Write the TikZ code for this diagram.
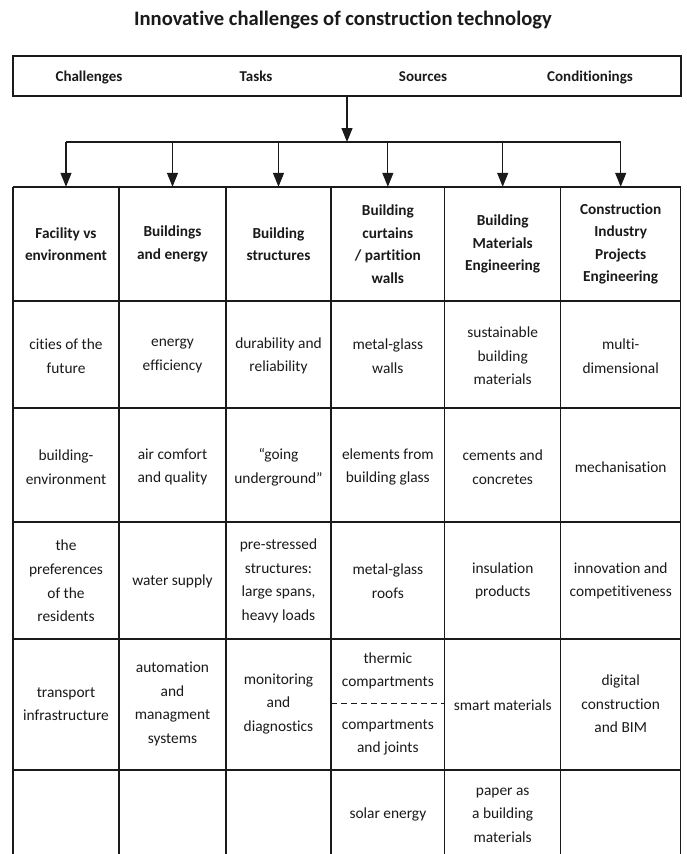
\documentclass[tikz,border=0pt]{standalone}
\usepackage{fontspec}
\setmainfont[Ligatures=NoCommon,RawFeature={-liga;-clig;-calt;-dlig}]{Carlito}
\usetikzlibrary{arrows.meta}
\definecolor{ink}{HTML}{1A1A1A}
\begin{document}
\begin{tikzpicture}[x=1pt,y=-1pt,
  gridline/.style={draw=ink, line width=1.3pt},
  cell/.style={align=center, font=\fontsize{15.4}{23.6}\selectfont, inner sep=0pt, text=ink},
  head/.style={align=center, font=\fontsize{15.3}{22.5}\selectfont\bfseries, inner sep=0pt, minimum height=114pt, text=ink},
  toplabel/.style={font=\fontsize{15}{18}\selectfont\bfseries, inner sep=0pt, text=ink, anchor=base},
  conn/.style={line width=1.2pt, draw=ink},
  tipped/.style={conn, -{Triangle[length=14pt,width=11pt]}}]
\useasboundingbox (0,0) rectangle (686,854);
\fill[white] (0,0) rectangle (686,854);

% title
\node[font=\fontsize{20.6}{24}\selectfont\bfseries, text=ink, anchor=base] (title) at (343,25) {Innovative challenges of construction technology};

% top box
\node[draw=ink, line width=1.3pt, minimum width=668pt, minimum height=40pt, inner sep=0pt] (top) at (347,76) {};
\node[toplabel] (l1) at (89,81) {Challenges};
\node[toplabel] (l2) at (256,81) {Tasks};
\node[toplabel] (l3) at (423,81) {Sources};
\node[toplabel] (l4) at (590,81) {Conditionings};

% table grid
\foreach \x in {13,119,226,331,444.7,560.7,680.7}
  \draw[gridline] (\x,187) -- (\x,854);
\foreach \y in {187,301,408,522,639,770}
  \draw[gridline] (13,\y) -- (680.7,\y);
\draw[conn, line width=1pt, dash pattern=on 6pt off 4pt] (331,703.5) -- (444.7,703.5);

% header cells
\node[head, minimum width=106pt] (h1) at (66,244) {Facility vs\\environment};
\node[head, minimum width=107pt] (h2) at (172.5,244) {Buildings\\and energy};
\node[head, minimum width=105pt] (h3) at (278.5,244) {Building\\structures};
\node[head, minimum width=113.7pt] (h4) at (387.85,244) {Building\\curtains\\/ partition\\walls};
\node[head, minimum width=116pt] (h5) at (502.7,244) {Building\\Materials\\Engineering};
\node[head, minimum width=120pt] (h6) at (620.7,244) {Construction\\Industry\\Projects\\Engineering};

% connectors
\coordinate (hub) at (347,142);
\draw[tipped] (top.south) -- (hub);
\draw[conn] (h1.north |- hub) -- (h6.north |- hub);
\foreach \h in {h1,h2,h3,h4,h5,h6}
  \draw[tipped] (\h.north |- hub) -- (\h.north);

% row 1
\node[cell] (a1) at (66,356) {cities of the\\future};
\node[cell] (a2) at (172.5,356) {energy\\efficiency};
\node[cell] (a3) at (278.5,356) {durability and\\reliability};
\node[cell] (a4) at (387.85,356) {metal-glass\\walls};
\node[cell] (a5) at (502.7,356) {sustainable\\building\\materials};
\node[cell] (a6) at (620.7,356) {multi-\\dimensional};

% row 2
\node[cell] (b1) at (66,467) {building-\\environment};
\node[cell] (b2) at (172.5,467) {air comfort\\and quality};
\node[cell] (b3) at (278.5,467) {“going\\underground”};
\node[cell] (b4) at (387.85,467) {elements from\\building glass};
\node[cell] (b5) at (502.7,467) {cements and\\concretes};
\node[cell] (b6) at (620.7,467) {mechanisation};

% row 3
\node[cell] (c1) at (66,581) {the\\preferences\\of the\\residents};
\node[cell] (c2) at (172.5,581) {water supply};
\node[cell] (c3) at (278.5,581) {pre-stressed\\structures:\\large spans,\\heavy loads};
\node[cell] (c4) at (387.85,581) {metal-glass\\roofs};
\node[cell] (c5) at (502.7,581) {insulation\\products};
\node[cell] (c6) at (620.7,581) {innovation and\\competitiveness};

% row 4
\node[cell] (d1) at (66,704) {transport\\infrastructure};
\node[cell] (d2) at (172.5,704) {automation\\and\\managment\\systems};
\node[cell] (d3) at (278.5,704) {monitoring\\and\\diagnostics};
\node[cell] (d4a) at (387.85,671) {thermic\\compartments};
\node[cell] (d4b) at (387.85,737.5) {compartments\\and joints};
\node[cell] (d5) at (502.7,705) {smart materials};
\node[cell] (d6) at (620.7,704) {digital\\construction\\and BIM};

% row 5
\node[cell] (e4) at (387.85,814) {solar energy};
\node[cell] (e5) at (502.7,815) {paper as\\a building\\materials};
\end{tikzpicture}
\end{document}
